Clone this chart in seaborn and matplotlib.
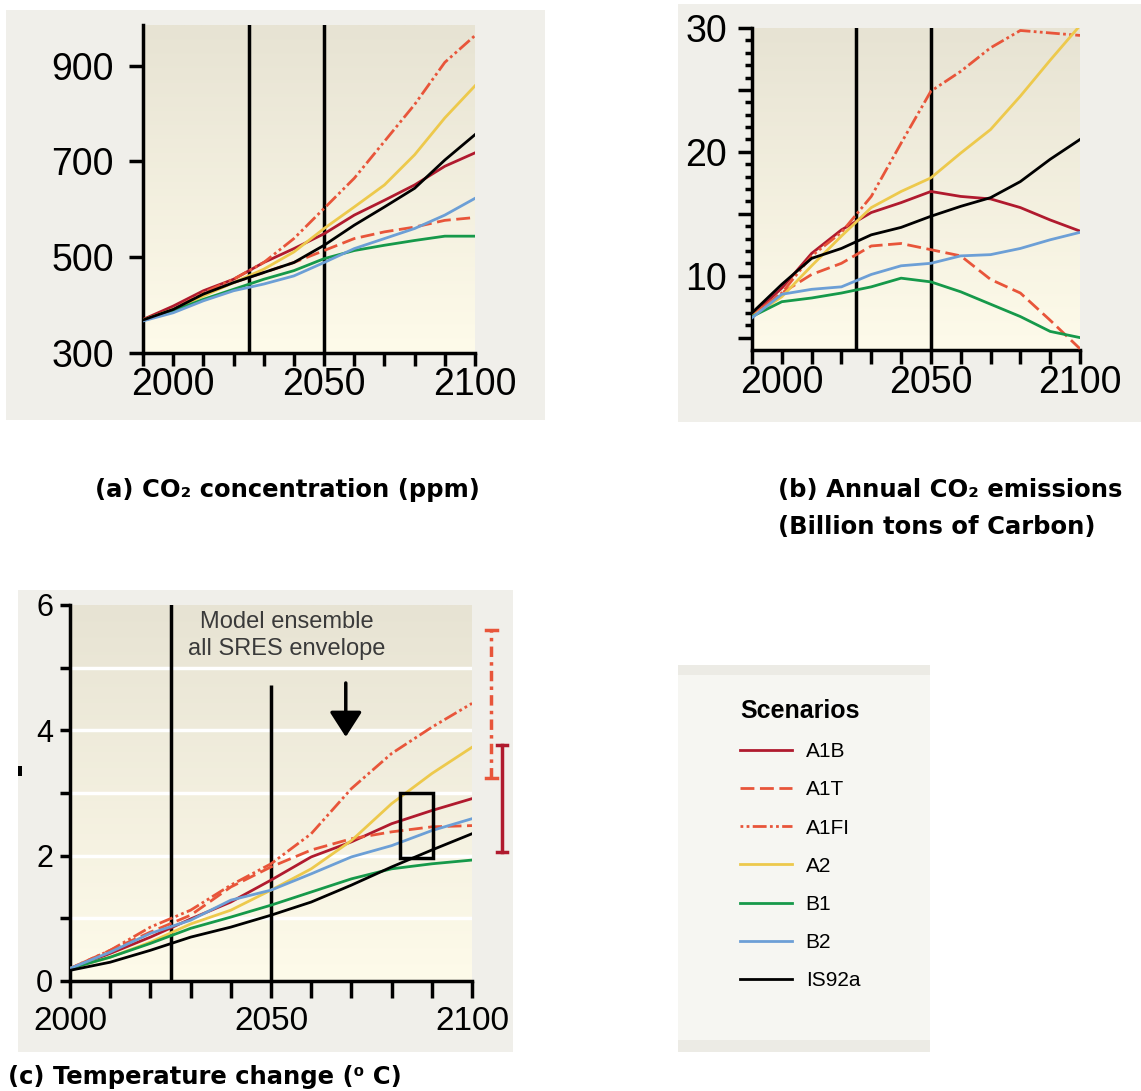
import numpy as np
import pandas as pd
import matplotlib
matplotlib.use('Agg')
import matplotlib.pyplot as plt
import seaborn as sns
from matplotlib.colors import LinearSegmentedColormap
from matplotlib.lines import Line2D
from matplotlib.patches import Rectangle

# =========================
# Dados
# =========================
scenarios = ['A1B', 'A1T', 'A1FI', 'A2', 'B1', 'B2', 'IS92a']

years_ab = [1990, 2000, 2010, 2020, 2030, 2040, 2050, 2060, 2070, 2080, 2090, 2100]
years_c = [2000, 2010, 2020, 2030, 2040, 2050, 2060, 2070, 2080, 2090, 2100]

# (a) CO2 concentration (ppm)
conc_a1b = [370, 398, 430, 454, 489, 518, 549, 588, 619, 651, 690, 718]
conc_a1t = [369, 391, 423, 447, 468, 489, 514, 539, 553, 563, 577, 583]
conc_a1fi = [369, 391, 426, 454, 489, 539, 602, 665, 742, 819, 907, 963]
conc_a2 = [369, 391, 419, 447, 475, 511, 560, 605, 651, 714, 791, 858]
conc_b1 = [368, 388, 412, 433, 454, 472, 497, 514, 525, 535, 544, 544]
conc_b2 = [367, 384, 409, 430, 444, 461, 489, 518, 539, 560, 588, 623]
conc_is92a = [369, 391, 423, 447, 468, 489, 525, 567, 605, 644, 703, 756]

# (b) Annual CO2 emissions (GtC)
emis_a1b = [6.8, 9.0, 11.8, 13.7, 15.1, 15.9, 16.8, 16.4, 16.2, 15.5, 14.5, 13.6]
emis_a1t = [6.8, 8.6, 10.1, 11.0, 12.4, 12.6, 12.1, 11.6, 9.7, 8.6, 6.4, 4.1]
emis_a1fi = [6.8, 8.6, 11.6, 13.5, 16.4, 20.7, 24.9, 26.5, 28.4, 29.8, 29.6, 29.4]
emis_a2 = [6.7, 8.3, 10.8, 13.2, 15.5, 16.8, 17.9, 19.9, 21.8, 24.5, 27.4, 30.2]
emis_b1 = [6.7, 7.9, 8.2, 8.6, 9.1, 9.8, 9.5, 8.7, 7.7, 6.7, 5.5, 5.0]
emis_b2 = [6.6, 8.5, 8.9, 9.1, 10.1, 10.8, 11.0, 11.6, 11.7, 12.2, 12.9, 13.5]
emis_is92a = [7.0, 9.3, 11.4, 12.2, 13.3, 13.9, 14.8, 15.6, 16.3, 17.6, 19.4, 21.0]

# (c) Temperature change (C)
temp_a1b = [0.2, 0.44, 0.70, 0.99, 1.26, 1.61, 1.98, 2.22, 2.51, 2.72, 2.91]
temp_a1t = [0.2, 0.49, 0.78, 1.05, 1.50, 1.82, 2.09, 2.27, 2.38, 2.46, 2.48]
temp_a1fi = [0.2, 0.49, 0.86, 1.13, 1.53, 1.87, 2.35, 3.07, 3.63, 4.05, 4.43]
temp_a2 = [0.2, 0.38, 0.62, 0.91, 1.13, 1.45, 1.79, 2.24, 2.83, 3.31, 3.73]
temp_b1 = [0.2, 0.38, 0.60, 0.84, 1.02, 1.21, 1.42, 1.63, 1.79, 1.87, 1.93]
temp_b2 = [0.2, 0.46, 0.76, 0.97, 1.29, 1.45, 1.71, 1.98, 2.16, 2.40, 2.59]
temp_is92a = [0.17, 0.30, 0.49, 0.70, 0.86, 1.05, 1.26, 1.53, 1.82, 2.09, 2.35]

# model ensemble ranges in 2100 (A1FI, A1B)
range_names = ['A1FI', 'A1B']
range_x = [2104.8, 2107.5]
range_lo = [3.24, 2.06]
range_hi = [5.6, 3.76]

# =========================
# Estilo
# =========================
colors = {'A1B': '#b01a2e', 'A1T': '#e8553a', 'A1FI': '#e8553a', 'A2': '#edc94c',
          'B1': '#16994a', 'B2': '#6c9fd6', 'IS92a': '#000000'}
dashes = {'A1B': '', 'A1T': (5, 2), 'A1FI': (1, 1.2, 1, 1.2, 5, 1.2), 'A2': '',
          'B1': '', 'B2': '', 'IS92a': ''}

plt.rcParams['font.family'] = ['Liberation Sans', 'DejaVu Sans']

W, H = 1141, 1091
fig = plt.figure(figsize=(W / 100, H / 100), dpi=100)
fig.patch.set_facecolor('white')


def box(x0, y0, x1, y1):
    # pixel box (origem no topo) -> fracao da figura
    return [x0 / W, 1 - y1 / H, (x1 - x0) / W, (y1 - y0) / H]


def rect(x0, y0, x1, y1, color):
    l, b, w, h = box(x0, y0, x1, y1)
    fig.add_artist(Rectangle((l, b), w, h, transform=fig.transFigure,
                             facecolor=color, edgecolor='none', zorder=-5))


# paineis cinza
rect(6, 10, 545, 420, '#f0efea')
rect(678, 4, 1141, 422, '#f0efea')
rect(18, 590, 513, 1052, '#f0efea')
rect(678, 665, 930, 1052, '#ecebe5')
rect(678, 675, 930, 1040, '#f6f6f2')

grad = LinearSegmentedColormap.from_list('bg', ['#fefbea', '#e7e3d3'])


def make_df(years, series):
    rows = []
    for name, vals in series.items():
        for yr, v in zip(years, vals):
            rows.append({'year': yr, 'value': v, 'scenario': name})
    return pd.DataFrame(rows)


def setup(ax):
    ax.imshow(np.linspace(0, 1, 256).reshape(-1, 1), extent=[0, 1, 0, 1],
              transform=ax.transAxes, cmap=grad, aspect='auto', origin='lower', zorder=0)
    for s in ['top', 'right']:
        ax.spines[s].set_visible(False)
    for s in ['left', 'bottom']:
        ax.spines[s].set_linewidth(2.5)
    ax.set_facecolor('none')


def draw(ax, df):
    sns.lineplot(data=df, x='year', y='value', hue='scenario', style='scenario',
                 hue_order=scenarios, style_order=scenarios, palette=colors,
                 dashes=dashes, lw=2, legend=False, ax=ax, zorder=3)
    ax.set_xlabel('')
    ax.set_ylabel('')


def decade_labels(start):
    return ['2000' if y == 2000 else '2050' if y == 2050 else '2100' if y == 2100 else ''
            for y in range(start, 2101, 10)]


# =========================
# (a) concentracao
# =========================
ax_a = fig.add_axes(box(143, 25, 475, 353))
setup(ax_a)
df_a = make_df(years_ab, {'A1B': conc_a1b, 'A1T': conc_a1t, 'A1FI': conc_a1fi, 'A2': conc_a2,
                          'B1': conc_b1, 'B2': conc_b2, 'IS92a': conc_is92a})
ax_a.axvline(2025, color='black', lw=2.5, zorder=2)
ax_a.axvline(2050, color='black', lw=2.5, zorder=2)
draw(ax_a, df_a)
ax_a.set_xlim(1990, 2100)
ax_a.set_ylim(300, 985)
ax_a.set_xticks(range(1990, 2101, 10))
ax_a.set_xticklabels(decade_labels(1990))
ax_a.set_yticks([300, 500, 700, 900])
ax_a.tick_params(axis='y', direction='out', length=10, width=2.5, labelsize=27, pad=11)
ax_a.tick_params(axis='x', direction='out', length=9, width=2.5, labelsize=27, pad=1)

# =========================
# (b) emissoes
# =========================
ax_b = fig.add_axes(box(752, 28, 1080, 350))
setup(ax_b)
df_b = make_df(years_ab, {'A1B': emis_a1b, 'A1T': emis_a1t, 'A1FI': emis_a1fi, 'A2': emis_a2,
                          'B1': emis_b1, 'B2': emis_b2, 'IS92a': emis_is92a})
ax_b.axvline(2025, color='black', lw=2.5, zorder=2)
ax_b.axvline(2050, color='black', lw=2.5, zorder=2)
draw(ax_b, df_b)
ax_b.set_xlim(1990, 2100)
ax_b.set_ylim(4.0, 30)
ax_b.set_xticks(range(1990, 2101, 10))
ax_b.set_xticklabels(decade_labels(1990))
ax_b.set_yticks([5, 10, 15, 20, 25, 30])
ax_b.set_yticklabels(['', '10', '', '20', '', '30'])
ax_b.set_yticks(range(5, 31), minor=True)
ax_b.tick_params(axis='y', which='major', direction='out', length=10, width=2.5, labelsize=27, pad=8)
ax_b.tick_params(axis='y', which='minor', direction='out', length=5, width=2.5)
ax_b.tick_params(axis='x', direction='out', length=10, width=2.5, labelsize=27, pad=1)

# =========================
# (c) temperatura
# =========================
ax_c = fig.add_axes(box(70, 605, 472, 981))
setup(ax_c)
for yv in [1, 2, 3, 4, 5]:
    ax_c.axhline(yv, color='white', lw=2.5, zorder=1)
ax_c.axvline(2025, color='black', lw=2.5, zorder=2)
ax_c.vlines(2050, 0, 4.73, color='black', lw=2.5, zorder=2)
df_c = make_df(years_c, {'A1B': temp_a1b, 'A1T': temp_a1t, 'A1FI': temp_a1fi, 'A2': temp_a2,
                         'B1': temp_b1, 'B2': temp_b2, 'IS92a': temp_is92a})
draw(ax_c, df_c)
ax_c.add_patch(Rectangle((2082, 1.96), 8.4, 1.04, fill=False, lw=2.5, ec='black', zorder=4))
ax_c.text(2054, 5.52, 'Model ensemble\nall SRES envelope', ha='center', va='center',
          fontsize=17, color='#3a3a3a', linespacing=1.3, zorder=4)
ax_c.annotate('', xy=(2068.6, 3.85), xytext=(2068.6, 4.8),
              arrowprops=dict(arrowstyle='-|>,head_length=0.7,head_width=0.45', lw=2.5,
                              color='black', mutation_scale=22), zorder=4)
for name, xr, lo, hi in zip(range_names, range_x, range_lo, range_hi):
    ls = (0, (3, 1.5, 1, 1.5)) if name == 'A1FI' else '-'
    ax_c.plot([xr, xr], [lo, hi], color=colors[name], lw=2.5, ls=ls, clip_on=False)
    ax_c.plot([xr - 1.3, xr + 1.3], [lo, lo], color=colors[name], lw=2.5, clip_on=False)
    ax_c.plot([xr - 1.3, xr + 1.3], [hi, hi], color=colors[name], lw=2.5, clip_on=False)
ax_c.set_xlim(2000, 2100)
ax_c.set_ylim(0, 6)
ax_c.set_xticks(range(2000, 2101, 10))
ax_c.set_xticklabels(decade_labels(2000))
ax_c.set_yticks(range(0, 7))
ax_c.set_yticklabels(['0', '', '2', '', '4', '', '6'])
ax_c.tick_params(axis='y', direction='out', length=7, width=2.5, labelsize=22, pad=5)
ax_c.tick_params(axis='x', direction='out', length=12, width=2.5, labelsize=24, pad=6)

# pequena marca a esquerda
l, b, w, h = box(18, 766, 22, 776)
fig.add_artist(Rectangle((l, b), w, h, transform=fig.transFigure, facecolor='black', edgecolor='none'))

# =========================
# legendas / titulos
# =========================
cap = dict(family='DejaVu Sans', weight='bold', size=17.5, va='center', ha='left')
fig.text(95 / W, 1 - 490 / H, '(a) CO\u2082 concentration (ppm)', **cap)
fig.text(778 / W, 1 - 490 / H, '(b) Annual CO\u2082 emissions', **cap)
fig.text(778 / W, 1 - 527 / H, '(Billion tons of Carbon)', **cap)
fig.text(8 / W, 1 - 1077 / H, '(c) Temperature change (\u2070 C)', **cap)

handles = []
for s in scenarios:
    if dashes[s] == '':
        handles.append(Line2D([0], [0], color=colors[s], lw=2))
    else:
        handles.append(Line2D([0], [0], color=colors[s], lw=2, dashes=dashes[s]))
fig.legend(handles, scenarios, loc='upper left', bbox_to_anchor=(740 / W, 1 - 699 / H),
           frameon=False, title='Scenarios', title_fontproperties={'weight': 'bold', 'size': 18},
           fontsize=15, handlelength=2.5, handletextpad=0.65, labelspacing=0.92,
           borderpad=0, borderaxespad=0, alignment='left')

fig.savefig('out.png', dpi=100)
